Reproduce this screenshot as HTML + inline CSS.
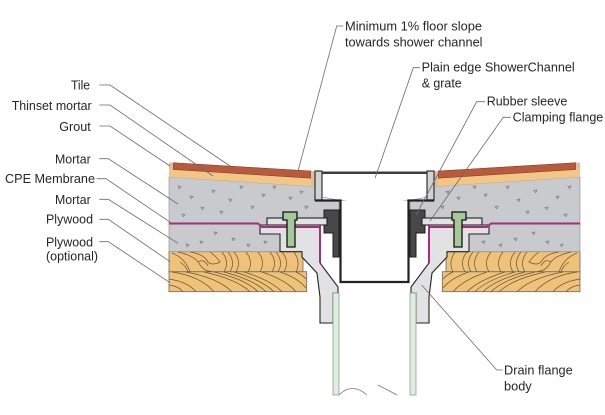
<!DOCTYPE html>
<html><head><meta charset="utf-8"><style>
html,body{margin:0;padding:0;background:#fff;}
svg{display:block;}
text{font-family:"Liberation Sans",Arial,sans-serif;font-size:12.5px;fill:#262626;}
</style></head><body>
<svg width="605" height="415" viewBox="0 0 605 415" xmlns="http://www.w3.org/2000/svg">
<rect x="0" y="0" width="605" height="415" fill="#fff"/>
<g id="L">
  <!-- plywood -->
  <rect x="169" y="271.7" width="137.7" height="20" fill="#efc279" stroke="#6a6a6a" stroke-width="0.8"/>
  <rect x="169" y="251.7" width="134" height="20" fill="#efc279" stroke="#6a6a6a" stroke-width="0.8"/>
  <g fill="none" stroke="#6b5333" stroke-width="0.7">
    <path d="M222,252 Q230,262 224,271.7 M234,252 Q242,262 236,271.7 M246,252 Q254,262 248,271.7 M258,252 Q266,262 260,271.7 M270,252 Q278,262 272,271.7 M282,252 Q290,262 284,271.7 M294,252 Q301,262 296,271.7 M228,252 Q236,262 230,271.7 M276,252 Q284,262 278,271.7"/>
    <path d="M172,253 Q185,258 190,271.7 M178,252 Q196,256 200,265 Q204,271 212,271.7 M190,252 Q204,254 208,262 Q212,266 220,262 Q216,256 210,252 M198,262 Q204,258 208,266 M180,262 Q186,266 188,271.7"/>
    <path d="M169,279 Q188,282 196,291.7 M169,285 Q178,286 183,291.7 M172,272 Q200,276 214,291.7 M186,272 Q218,278 232,291.7 M204,272 Q236,279 250,291.7 M224,272 Q254,280 266,291.7 M244,272 Q270,280 282,291.7 M262,272 Q286,280 296,291.7 M280,272 Q298,278 306,288 M296,272 Q304,276 306,279 M214,272 Q245,279 258,291.7 M234,272 Q262,280 274,291.7"/>
  </g>
  <!-- mortar -->
  <polygon points="169,177 315,186.5 315,201 339,201 339,210 324,210 324,225 260,225 260,234 280,234 280,251.7 169,251.7" fill="#c9cacd" stroke="#8a8a8a" stroke-width="0.6"/>
  <path d="M178,186 l3,0.5 l-1.8,2.2z M190,196 l3,0.5 l-1.8,2.2z M201,207 l3,0.5 l-1.8,2.2z M212,190 l3,0.5 l-1.8,2.2z M229,199 l3,0.5 l-1.8,2.2z M240,186 l3,0.5 l-1.8,2.2z M251,206 l3,0.5 l-1.8,2.2z M262,194 l3,0.5 l-1.8,2.2z M273,186 l3,0.5 l-1.8,2.2z M289,197 l3,0.5 l-1.8,2.2z M300,191 l3,0.5 l-1.8,2.2z M186,244 l3,0.5 l-1.8,2.2z M200,241 l3,0.5 l-1.8,2.2z M232,238 l3,0.5 l-1.8,2.2z M247,244 l3,0.5 l-1.8,2.2z M214,232 l3,0.5 l-1.8,2.2z M264,241 l3,0.5 l-1.8,2.2z M220,211 l3,0.5 l-1.8,2.2z M305,206 l3,0.5 l-1.8,2.2z M182,214 l3,0.5 l-1.8,2.2z" fill="none" stroke="#7d7d7d" stroke-width="0.7"/>
  <!-- tile, thinset, grout -->
  <polygon points="169,169.2 311,178.2 311,186.3 169,177" fill="#f2c686"/>
  <polygon points="173,162.7 311,171 311,178.2 173,169.5" fill="#b85a3b" stroke="#7a3522" stroke-width="0.5"/>
  <polygon points="169,162.5 173,162.7 173,169.5 169,169.2" fill="#dcc09c"/>
  <polygon points="311,171 315,171.3 315,186.5 311,186.3" fill="#dcc09c"/>
  <!-- flange body -->
  <polygon points="260,225 320,225 320,263 338,287 338,293 333,293 333,323 320,323 320,297 317,273 302,257 302,251.7 280,251.7 280,234 260,234" fill="#e2e2e4" stroke="#222" stroke-width="1.1" stroke-linejoin="miter"/>
  <!-- membrane -->
  <polyline points="169,223.5 258,223.5 262,227 320,227 320,263" fill="none" stroke="#a52f7c" stroke-width="2"/>
  <!-- rubber sleeve -->
  <polygon points="324,210 339,210 339,257 333,257 333,233 324,233" fill="#484848" stroke="#1e1e1e" stroke-width="1"/>
  <!-- clamping plate -->
  <rect x="267" y="218" width="60" height="7" fill="#e2e2e4" stroke="#222" stroke-width="1.1"/>
  <!-- bolt -->
  <polygon points="283,212 297,212 297,220 295,220 295,247 287,247 287,220 283,220" fill="#a5c99a" stroke="#111" stroke-width="1.3"/>
  <!-- outlet pipe -->
  <rect x="333" y="293" width="6" height="102" fill="#dcefdc" stroke="#9a9a9a" stroke-width="0.8"/>
</g>
<use href="#L" transform="translate(749,0) scale(-1,1)"/>

<!-- channel -->
<rect x="322" y="173" width="105" height="27" fill="#fff"/>
<rect x="315" y="171" width="7" height="29" fill="#d2d2d2" stroke="#222" stroke-width="1.1"/>
<rect x="427" y="171" width="7" height="29" fill="#d2d2d2" stroke="#222" stroke-width="1.1"/>
<rect x="322" y="171.5" width="105" height="2.5" fill="#3d3d3d"/>
<path d="M322,197 Q375,209 427,197" fill="none" stroke="#9a9a9a" stroke-width="0.8"/>
<rect x="340" y="201" width="69" height="81" fill="#fff"/>
<g stroke="#222" fill="none">
  <path d="M315,200.5 H340.5 V282 H408.5 V200.5 H434" stroke-width="2.2"/>
</g>
<!-- break lines -->
<path d="M339,395 Q352,382 367,395 M378,385 L397,395" fill="none" stroke="#777" stroke-width="0.8"/>

<!-- leader lines -->
<g fill="none" stroke="#6b6b6b" stroke-width="0.8">
  <polyline points="99.3,85 110,85 230,166"/>
  <polyline points="99.3,105 110,105 213,176"/>
  <polyline points="99.3,126 110,126 170,166"/>
  <polyline points="99.3,158.7 108.3,158.7 178,204"/>
  <polyline points="96.7,178.7 106,178.7 171.7,223.3"/>
  <polyline points="99.3,199.3 108.3,199.3 178,243.3"/>
  <polyline points="99.3,219.3 108.3,219.3 170,261.7"/>
  <polyline points="99.3,241.7 108.3,241.7 170,282.7"/>
  <polyline points="343.3,26 336.7,26 298.3,170"/>
  <polyline points="420,67.7 413.3,67.7 375,178.3"/>
  <polyline points="485,101.7 476.7,101.7 416,215"/>
  <polyline points="511,117.3 503.3,117.3 430,221"/>
  <polyline points="502.7,370 496.7,370 421.7,285"/>
</g>

<!-- labels -->
<text x="71" y="89.5" textLength="19" lengthAdjust="spacingAndGlyphs">Tile</text>
<text x="11.7" y="110" textLength="80" lengthAdjust="spacingAndGlyphs">Thinset mortar</text>
<text x="59.3" y="131" textLength="31.4" lengthAdjust="spacingAndGlyphs">Grout</text>
<text x="55" y="163.5" textLength="35.7" lengthAdjust="spacingAndGlyphs">Mortar</text>
<text x="5" y="183" textLength="90" lengthAdjust="spacingAndGlyphs">CPE Membrane</text>
<text x="55" y="204" textLength="35.7" lengthAdjust="spacingAndGlyphs">Mortar</text>
<text x="46" y="223.5" textLength="47" lengthAdjust="spacingAndGlyphs">Plywood</text>
<text x="46" y="246.5" textLength="47" lengthAdjust="spacingAndGlyphs">Plywood</text>
<text x="46" y="260.5" textLength="52" lengthAdjust="spacingAndGlyphs">(optional)</text>

<text x="345" y="30.5" textLength="137" lengthAdjust="spacingAndGlyphs">Minimum 1% floor slope</text>
<text x="345" y="46.5" textLength="137.5" lengthAdjust="spacingAndGlyphs">towards shower channel</text>
<text x="421.7" y="71.7" textLength="153" lengthAdjust="spacingAndGlyphs">Plain edge ShowerChannel</text>
<text x="421.7" y="87.3" textLength="40" lengthAdjust="spacingAndGlyphs">&amp; grate</text>
<text x="486.7" y="105.7" textLength="80.6" lengthAdjust="spacingAndGlyphs">Rubber sleeve</text>
<text x="512.7" y="121.7" textLength="90.6" lengthAdjust="spacingAndGlyphs">Clamping flange</text>
<text x="504" y="374.7" textLength="68.7" lengthAdjust="spacingAndGlyphs">Drain flange</text>
<text x="504" y="390.7" textLength="27.7" lengthAdjust="spacingAndGlyphs">body</text>
</svg>
</body></html>
